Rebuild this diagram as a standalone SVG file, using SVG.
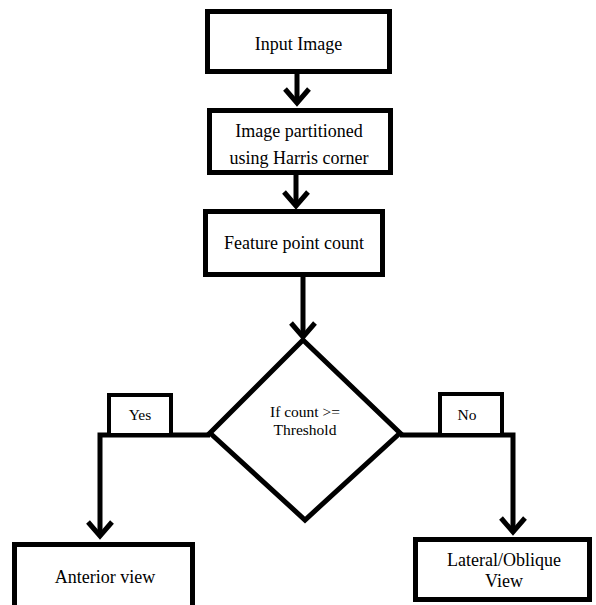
<svg xmlns="http://www.w3.org/2000/svg" width="596" height="605" viewBox="0 0 596 605">
<style>
.box{fill:#fff;stroke:#000;stroke-width:5}
.lbl{fill:#fff;stroke:#000;stroke-width:4}
.ln{fill:none;stroke:#000;stroke-width:5}
.ah{fill:none;stroke:#000;stroke-width:5;stroke-linejoin:miter}
text{font-family:"Liberation Serif","Times New Roman",Times,serif;fill:#000;text-anchor:middle}
.t{font-size:18px}
.s{font-size:15.5px}
</style>
<rect width="596" height="605" fill="#fff"/>
<g id="connectors">
<path class="ln" d="M297,74 V102"/>
<path class="ah" d="M285,89 L297,103 L309,89"/>
<path class="ln" d="M296,175 V205"/>
<path class="ah" d="M284,192 L296,206 L308,192"/>
<path class="ln" d="M303,277 V336"/>
<path class="ah" d="M291,323 L303,337 L315,323"/>
<path class="ln" d="M210,435 H100 V536"/>
<path class="ah" d="M88,522 L100,536 L112,522"/>
<path class="ln" d="M400,435 H513 V532"/>
<path class="ah" d="M501,518 L513,532 L525,518"/>
</g>
<g id="input">
<rect class="box" x="207.5" y="11.5" width="182" height="60"/>
<text class="t" x="298.5" y="50">Input Image</text>
</g>
<g id="partition">
<rect class="box" x="209.5" y="110.5" width="181" height="62"/>
<text class="t" x="299" y="137">Image partitioned</text>
<text class="t" x="299" y="164">using Harris corner</text>
</g>
<g id="feature">
<rect class="box" x="205.5" y="211.5" width="177" height="63"/>
<text class="t" x="294" y="249">Feature point count</text>
</g>
<g id="decision">
<polygon class="box" points="303,340 400,433 305,520 210,433"/>
<text class="s" x="305" y="417">If count &gt;=</text>
<text class="s" x="305" y="435">Threshold</text>
</g>
<g id="yes">
<rect class="lbl" x="109" y="395" width="62" height="40"/>
<text class="s" x="140" y="420">Yes</text>
</g>
<g id="no">
<rect class="lbl" x="440" y="394" width="62" height="41"/>
<text class="s" x="467" y="420">No</text>
</g>
<g id="anterior">
<rect class="box" x="14.5" y="544.5" width="178" height="70"/>
<text class="t" x="105" y="583">Anterior view</text>
</g>
<g id="lateral">
<rect class="box" x="415.5" y="539.5" width="174" height="60"/>
<text class="t" x="504" y="566">Lateral/Oblique</text>
<text class="t" x="504" y="587">View</text>
</g>
</svg>
